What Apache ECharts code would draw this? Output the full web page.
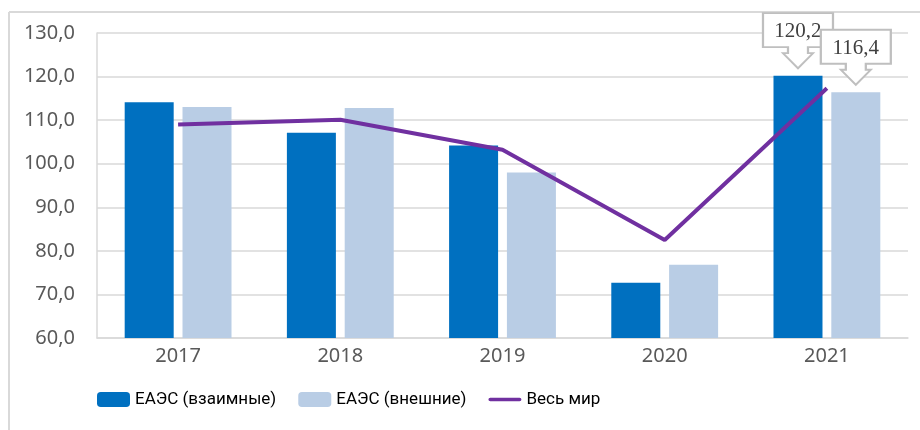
<!DOCTYPE html>
<html>
<head>
<meta charset="utf-8">
<script src="https://cdn.jsdelivr.net/npm/echarts@6/dist/echarts.min.js"></script>
<style>
  html, body { margin: 0; padding: 0; background: #fff; }
  #chart { width: 920px; height: 430px; }
</style>
</head>
<body>
<div id="chart"></div>
<script>
// данные с графика
const years = ['2017', '2018', '2019', '2020', '2021'];
const eaesMutual = [114.1, 107.1, 104.2, 72.7, 120.2];   // ЕАЭС (взаимные)
const eaesExternal = [113.0, 112.8, 98.0, 76.8, 116.4];  // ЕАЭС (внешние)
const world = [109.0, 110.1, 103.2, 82.5, 117.3];        // Весь мир
const seriesNames = ['ЕАЭС (взаимные)', 'ЕАЭС (внешние)', 'Весь мир'];

const fmt = v => Number(v).toFixed(1).replace('.', ',');

// выноска со стрелкой вниз
const calloutPath = 'path://M0,0L70,0L70,34L45,34L45,40L50,40L35,55L20,40L25,40L25,34L0,34Z';

function callout(idx, values, z) {
  return {
    symbol: calloutPath,
    symbolSize: [70, 55],
    symbolOffset: [0, -35],
    silent: true,
    z: z,
    itemStyle: { color: '#fff', borderColor: '#bfbfbf', borderWidth: 2 },
    label: {
      show: true,
      position: 'inside',
      offset: [0, -9],
      fontFamily: 'Liberation Serif',
      fontSize: 21,
      color: '#404040',
      formatter: p => fmt(p.value)
    },
    data: [{ coord: [years[idx], values[idx]], value: values[idx] }]
  };
}

const myChart = echarts.init(document.getElementById('chart'));
myChart.setOption({
  animation: false,
  textStyle: { fontFamily: 'Noto Sans' },
  grid: { left: 97, right: 12, top: 33, bottom: 92 },
  graphic: [
    { type: 'line', shape: { x1: 9, y1: 12, x2: 9, y2: 430 }, style: { stroke: '#d9d9d9', lineWidth: 2 } },
    { type: 'line', shape: { x1: 9, y1: 12, x2: 920, y2: 12 }, style: { stroke: '#d9d9d9', lineWidth: 2 } }
  ],
  legend: {
    left: 92,
    top: 386,
    itemWidth: 33,
    itemHeight: 15,
    itemGap: 22,
    textStyle: { fontSize: 17, color: '#000', fontFamily: 'Roboto' },
    data: [
      { name: seriesNames[0] },
      { name: seriesNames[1] },
      { name: seriesNames[2], icon: 'path://M2,0L34,0A2,2,0,0,1,34,4L2,4A2,2,0,0,1,2,0Z' }
    ]
  },
  xAxis: {
    type: 'category',
    data: years,
    axisLine: { lineStyle: { color: '#d9d9d9', width: 1.5 } },
    axisTick: { show: false },
    axisLabel: { color: '#595959', fontSize: 20, margin: 8 }
  },
  yAxis: {
    type: 'value',
    min: 60,
    max: 130,
    interval: 10,
    axisLine: { show: true, lineStyle: { color: '#d9d9d9', width: 1.5 } },
    axisTick: { show: false },
    splitLine: { lineStyle: { color: '#d9d9d9', width: 1.5 } },
    axisLabel: { color: '#595959', fontSize: 20, margin: 22, formatter: v => fmt(v) }
  },
  series: [
    {
      name: seriesNames[0],
      type: 'bar',
      barWidth: 49,
      barGap: '18%',
      itemStyle: { color: '#0070c0' },
      data: eaesMutual,
      markPoint: callout(4, eaesMutual, 5)
    },
    {
      name: seriesNames[1],
      type: 'bar',
      barWidth: 49,
      itemStyle: { color: '#b9cde5' },
      data: eaesExternal,
      markPoint: callout(4, eaesExternal, 6)
    },
    {
      name: seriesNames[2],
      type: 'line',
      symbol: 'none',
      z: 4,
      lineStyle: { color: '#7030a0', width: 4 },
      itemStyle: { color: '#7030a0' },
      data: world
    }
  ]
});
</script>
</body>
</html>
